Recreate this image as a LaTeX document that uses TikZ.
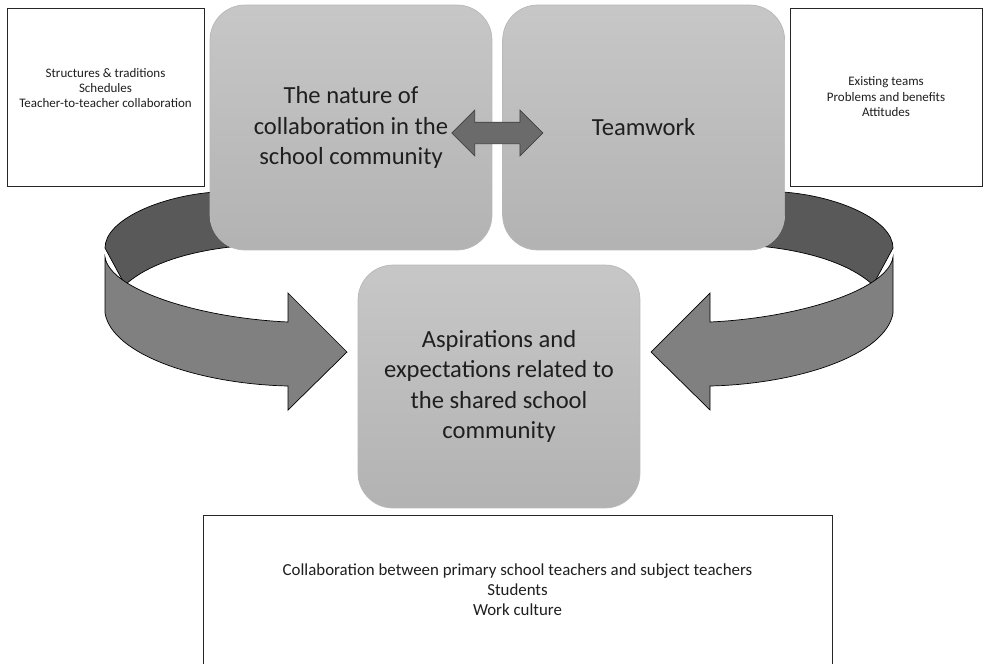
\documentclass[tikz,border=0pt]{standalone}
\usepackage{fontspec}
\setmainfont{Carlito}
\usepackage{tikz}
\usetikzlibrary{calc,positioning,shapes.arrows}
\definecolor{textgrey}{gray}{0.12}
\tikzset{ringback/.style={fill=black!65,draw=black,thin},ringfront/.style={fill=black!50,draw=black,thin}}

\begin{document}
\begin{tikzpicture}[x=0.02cm,y=-0.02cm]

\tikzset{greybox/.style={draw=black!28,top color=black!22,bottom color=black!30,rounded corners=0.7cm,minimum width=5.64cm,minimum height=4.9cm,align=center,text=textgrey,font=\fontsize{14}{17.3}\selectfont},
notebox/.style={draw=black!85,fill=white,thin,align=center,text=textgrey,inner sep=0pt},
smallnote/.style={font=\fontsize{7.4}{8.8}\selectfont},
widenote/.style={font=\fontsize{9.6}{11.4}\selectfont}}

\useasboundingbox (0,0) rectangle (983,663);

% Curved arrows, they start behind the top boxes
\filldraw[ringback] (215,192) .. controls (160,196) and (105,220) .. (105,248) -- (125,285) .. controls (150,262) and (195,250) .. (240,246) -- cycle;
\filldraw[ringfront] (105,257) -- (105,313) .. controls (112,355) and (200,384) .. (288,386) -- (288,410) -- (347,352) -- (288,293) -- (288,322) .. controls (200,318) and (110,290) .. (105,257) -- cycle;
\begin{scope}[shift={(998,0)},xscale=-1]
\filldraw[ringback] (215,192) .. controls (160,196) and (105,220) .. (105,248) -- (125,285) .. controls (150,262) and (195,250) .. (240,246) -- cycle;
\filldraw[ringfront] (105,257) -- (105,313) .. controls (112,355) and (200,384) .. (288,386) -- (288,410) -- (347,352) -- (288,293) -- (288,322) .. controls (200,318) and (110,290) .. (105,257) -- cycle;
\end{scope}

% Main boxes
\node[greybox] (nature) at (351,127.5) {The nature of\\collaboration in the\\school community};
\node[greybox,right=0.2cm of nature] (teamwork) {Teamwork};
\node[greybox,minimum height=4.86cm] (aspirations) at (499,386.5) {Aspirations and\\expectations related to\\the shared school\\community};

% Two-way arrow between the top boxes
\node[double arrow,fill=black!58,draw=black!75,minimum height=1.82cm,inner xsep=0pt,inner ysep=0.21cm,double arrow head extend=0.24cm] (link) at ($(nature.east)!.5!(teamwork.west)+(0,5.5)$) {};

% Notes
\node[notebox,minimum width=3.94cm,minimum height=3.56cm] (structures) at (105.5,97) {};
\node[smallnote,align=center,text=textgrey] (structurestext) at ($(structures)+(0,-9)$) {Structures \& traditions\\Schedules\\Teacher-to-teacher collaboration};
\node[notebox,smallnote,minimum width=3.84cm,minimum height=3.56cm] (teams) at (886,97) {Existing teams\\Problems and benefits\\Attitudes};
\node[notebox,widenote,minimum width=12.58cm,minimum height=3cm] (culture) at (517.5,590) {Collaboration between primary school teachers and subject teachers\\Students\\Work culture};

\end{tikzpicture}
\end{document}
